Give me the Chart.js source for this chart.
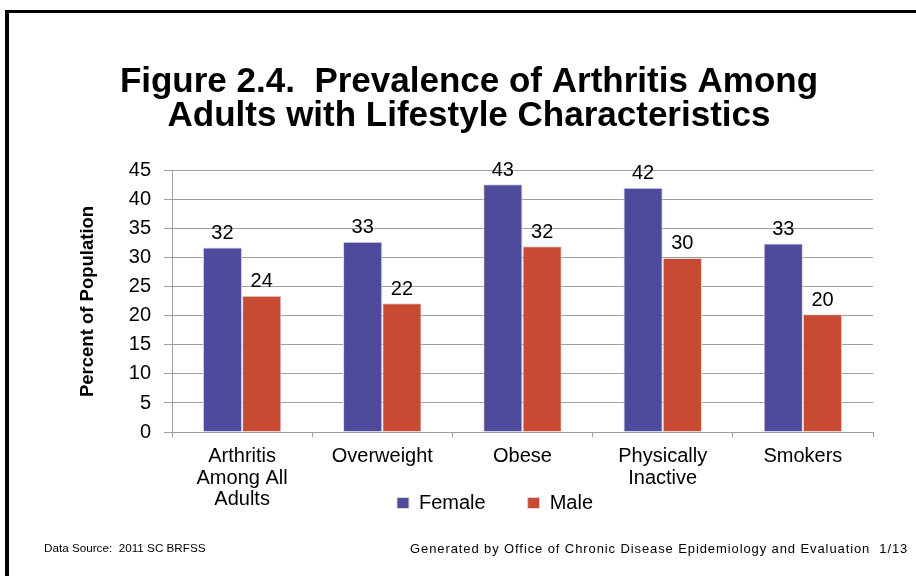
<!DOCTYPE html>
<html>
<head>
<meta charset="utf-8">
<script src="https://cdn.jsdelivr.net/npm/chart.js@4.4.0/dist/chart.umd.min.js"></script>
<style>
  html, body { margin: 0; padding: 0; background: #fff; overflow: hidden; }
  #wrap { position: relative; width: 916px; height: 576px; }
  #frame { position: absolute; left: 5px; top: 10px; width: 1000px; height: 1000px;
           border-left: 4px solid #000; border-top: 3px solid #000; }
  #c { position: absolute; left: 0; top: 0; }
  .foot { position: absolute; font-family: 'Liberation Sans', Arial, sans-serif;
          font-size: 11.7px; color: #000; white-space: pre; }
</style>
</head>
<body>
<div id="wrap">
  <div id="frame"></div>
  <canvas id="c" width="916" height="576"></canvas>
  <div class="foot" style="left:44px; top:541px;">Data Source:  2011 SC BRFSS</div>
  <div class="foot" style="left:410px; top:541px; font-size:13px; letter-spacing:0.9px;">Generated by Office of Chronic Disease Epidemiology and Evaluation  1/13</div>
</div>
<script>
// values
const categories = [['Arthritis', 'Among All', 'Adults'], 'Overweight', 'Obese', ['Physically', 'Inactive'], 'Smokers'];
const femaleValues = [31.8, 32.8, 42.7, 42.1, 32.5];
const maleValues = [23.5, 22.2, 32.0, 30.0, 20.3];
const seriesNames = ['Female', 'Male'];
const titleLines = ['Figure 2.4.  Prevalence of Arthritis Among', 'Adults with Lifestyle Characteristics'];
const yTitle = 'Percent of Population';
const yMin = 0, yMax = 45, yStep = 5;

Chart.defaults.font.family = '"Liberation Sans", Arial, sans-serif';
Chart.defaults.color = '#000';

// number above every bar
const barLabels = {
  id: 'barLabels',
  afterDatasetsDraw(chart) {
    const ctx = chart.ctx;
    ctx.save();
    ctx.font = '20px "Liberation Sans", Arial, sans-serif';
    ctx.fillStyle = '#000';
    ctx.textAlign = 'center';
    ctx.textBaseline = 'alphabetic';
    chart.data.datasets.forEach((ds, i) => {
      chart.getDatasetMeta(i).data.forEach((bar, j) => {
        ctx.fillText(String(Math.round(ds.data[j])), bar.x, bar.y - 8.5);
      });
    });
    ctx.restore();
  }
};

// in the original the legend overlaps the bottom of the category labels
// and sits a bit right of the title centre
const legendShift = {
  id: 'legendShift',
  afterLayout(chart) {
    const lg = chart.legend;
    const dy = chart.chartArea.bottom + 19 - lg.top;
    lg.top += dy;
    lg.bottom += dy;
    lg.left += 26;
    lg.right += 26;
  }
};

new Chart(document.getElementById('c'), {
  type: 'bar',
  data: {
    labels: categories,
    datasets: [{
      label: seriesNames[0],
      data: femaleValues,
      backgroundColor: '#4F4B9C',
      borderColor: '#d9d9d9',
      borderWidth: 1
    }, {
      label: seriesNames[1],
      data: maleValues,
      backgroundColor: '#C84A32',
      borderColor: '#d9d9d9',
      borderWidth: 1
    }]
  },
  options: {
    responsive: false,
    animation: false,
    devicePixelRatio: 1,
    categoryPercentage: 0.56,
    barPercentage: 1.0,
    layout: { padding: { left: 65, right: 43, top: 20, bottom: -8 } },
    plugins: {
      title: {
        display: true,
        text: titleLines,
        color: '#000',
        font: { size: 35, weight: 'bold', lineHeight: 0.97 },
        padding: { top: 45, bottom: 38 }
      },
      legend: {
        position: 'bottom',
        labels: {
          boxWidth: 12,
          boxHeight: 11,
          padding: 42,
          color: '#000',
          font: { size: 20 }
        }
      },
      tooltip: { enabled: false }
    },
    scales: {
      x: {
        grid: { drawOnChartArea: false, tickLength: 5, color: '#a0a0a0' },
        border: { color: '#a0a0a0' },
        ticks: {
          padding: 9,
          color: '#000',
          maxRotation: 0,
          autoSkip: false,
          font: { size: 20, lineHeight: 1.07 }
        },
        afterFit: s => { s.height = 80; }
      },
      y: {
        min: yMin,
        max: yMax,
        grid: { color: '#a0a0a0', tickLength: 8 },
        border: { color: '#a0a0a0' },
        ticks: { stepSize: yStep, padding: 13, color: '#000', font: { size: 20 } },
        title: {
          display: true,
          text: yTitle,
          color: '#000',
          font: { size: 18.5, weight: 'bold' },
          padding: { top: 12, bottom: 0 }
        },
        afterFit: s => { s.width = 107; }
      }
    }
  },
  plugins: [barLabels, legendShift]
});
</script>
</body>
</html>
